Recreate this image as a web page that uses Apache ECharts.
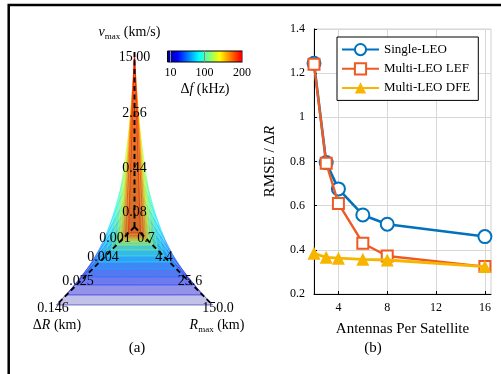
<!DOCTYPE html>
<html>
<head>
<meta charset="utf-8">
<script src="https://cdn.jsdelivr.net/npm/echarts@6/dist/echarts.min.js"></script>
<style>
  html, body { margin: 0; padding: 0; background: #fff; }
  #chart { width: 501px; height: 374px; }
</style>
</head>
<body>
<div id="chart"></div>
<script>
// ---- panel (a): contour levels, one triangle per delta-f ----
const dfLevels = [10, 25, 40, 55, 70, 85, 100, 115, 130, 145, 160, 175, 190, 200];
const dRVals   = [0.146, 0.0742, 0.0377, 0.022, 0.0128, 0.0080, 0.0053, 0.00353, 0.00252, 0.00206, 0.0018, 0.00157, 0.00137, 0.00112];
const rMaxVals = [150, 75.8, 38.5, 22.3, 12.9, 8.04, 5.35, 3.56, 2.53, 2.07, 1.8, 1.57, 1.37, 1.12];
const vMaxVals = [0.095, 0.129, 0.185, 0.292, 0.535, 0.98, 1.54, 3.83, 7.03, 9.51, 11.4, 12.9, 14.1, 15.0];

// axis ticks (log scale, centre = first tick)
const vTicks  = [0.0746, 0.437, 2.56, 15];
const vTickLabels = ['0.08', '0.44', '2.56', '15.00'];
const dRTicks = [0.000745, 0.0043, 0.025, 0.146];
const dRTickLabels = ['0.001', '0.004', '0.025', '0.146'];
const rTicks  = [0.745, 4.4, 25.6, 150];
const rTickLabels = ['0.7', '4.4', '25.6', '150.0'];

// colorbar
const cbRange = [2, 201];
const cbTicks = [10, 100, 200];

// ---- panel (b) ----
const antennas  = [2, 3, 4, 6, 8, 16];
const singleLEO = [1.245, 0.795, 0.676, 0.558, 0.516, 0.46];
const multiLEF  = [1.24, 0.792, 0.61, 0.43, 0.372, 0.324];
const multiDFE  = [0.384, 0.366, 0.362, 0.357, 0.354, 0.324];

const serif = 'Liberation Serif';

// geometry of the three spokes in the hidden plane (units = px)
const axes = [
  { key: 'v',  ticks: vTicks,  labels: vTickLabels,  dir: [0, 175],
    off: [[0, -15], [0, 0], [0, 3], [0, 5]] },
  { key: 'dR', ticks: dRTicks, labels: dRTickLabels, dir: [-78, -78],
    off: [[-19.5, 11], [-5.5, 4], [-4.5, 2], [-3.5, 3]] },
  { key: 'r',  ticks: rTicks,  labels: rTickLabels,  dir: [78, -78],
    off: [[11.5, 11], [3.5, 4], [3.5, 2], [5.5, 3]] }
];

function proj(ax, val) {
  const t = ax.ticks;
  const f = Math.log(val / t[0]) / Math.log(t[t.length - 1] / t[0]);
  return [ax.dir[0] * f, ax.dir[1] * f];
}

const jetStops = [
  [0, [0, 0, 128]], [0.139, [0, 0, 255]], [0.417, [0, 255, 255]],
  [0.694, [255, 255, 0]], [0.972, [255, 0, 0]], [1, [235, 0, 0]]
];
function jet(t) {
  t = Math.max(0, Math.min(1, t));
  for (let k = 1; k < jetStops.length; k++) {
    if (t <= jetStops[k][0]) {
      const a = jetStops[k - 1], b = jetStops[k];
      const u = (t - a[0]) / (b[0] - a[0]);
      return a[1].map((c, j) => Math.round(c + (b[1][j] - c) * u));
    }
  }
  return jetStops[jetStops.length - 1][1];
}
const rgba = (c, a) => 'rgba(' + c[0] + ',' + c[1] + ',' + c[2] + ',' + a + ')';

const tickItems = [];
axes.forEach((ax, ai) => ax.ticks.forEach((v, ti) => tickItems.push([ai, ti])));

const chart = echarts.init(document.getElementById('chart'));

const option = {
  animation: false,
  backgroundColor: '#fff',
  grid: [
    { left: 34.5, top: 27, width: 200, height: 300, show: false },
    { left: 167.5, top: 51, width: 75, height: 11, show: false },
    { left: 314, top: 29, width: 177, height: 265, show: true, borderColor: '#d0d0d0', borderWidth: 1 }
  ],
  xAxis: [
    { gridIndex: 0, type: 'value', min: -100, max: 100, show: false },
    { gridIndex: 1, type: 'value', min: cbRange[0], max: cbRange[1], z: 10,
      axisLine: { show: false },
      axisTick: { inside: true, length: 11, customValues: cbTicks, lineStyle: { color: '#888', width: 1 } },
      axisLabel: { customValues: cbTicks, margin: 5, fontFamily: serif, fontSize: 12, color: '#000' },
      splitLine: { show: false } },
    { gridIndex: 2, type: 'value', min: 2, max: 16.5,
      name: 'Antennas Per Satellite', nameLocation: 'middle', nameGap: 28,
      nameTextStyle: { fontFamily: serif, fontSize: 15, color: '#000' },
      axisLine: { lineStyle: { color: '#000', width: 1 } },
      axisTick: { customValues: [4, 8, 12, 16], inside: true, length: 3, lineStyle: { color: '#000' } },
      axisLabel: { customValues: [4, 8, 12, 16], margin: 8, fontFamily: serif, fontSize: 12, color: '#000' },
      splitLine: { show: true, lineStyle: { color: '#d8d8d8', width: 1 } } }
  ],
  yAxis: [
    { gridIndex: 0, type: 'value', min: -100, max: 200, show: false },
    { gridIndex: 1, type: 'value', min: 0, max: 1, show: false },
    { gridIndex: 2, type: 'value', min: 0.2, max: 1.4, interval: 0.2,
      name: 'RMSE / Δ{i|R}', nameLocation: 'middle', nameGap: 36,
      nameTextStyle: { fontFamily: serif, fontSize: 15, color: '#000',
        rich: { i: { fontFamily: serif, fontSize: 15, fontStyle: 'italic' } } },
      axisLine: { show: true, lineStyle: { color: '#000', width: 1 } },
      axisTick: { show: true, inside: true, length: 3, lineStyle: { color: '#000' } },
      axisLabel: { margin: 9, fontFamily: serif, fontSize: 12, color: '#000' },
      splitLine: { show: true, lineStyle: { color: '#d8d8d8', width: 1 } } }
  ],
  legend: {
    orient: 'vertical', left: 337, top: 37,
    itemWidth: 37, itemHeight: 14, itemGap: 6,
    padding: [6, 8, 6, 4],
    backgroundColor: '#fff', borderColor: '#000', borderWidth: 1, borderRadius: 0,
    textStyle: { fontFamily: serif, fontSize: 13, color: '#000' },
    data: ['Single-LEO', 'Multi-LEO LEF', 'Multi-LEO DFE']
  },
  graphic: [
    { type: 'rect', shape: { x: 8.7, y: 5, width: 600, height: 500 },
      style: { fill: 'none', stroke: '#000', lineWidth: 2.5 }, z: 100 },
    { type: 'text', x: 129.5, y: 32,
      style: { text: '{i|v}{s|max} (km/s)', fontFamily: serif, fontSize: 14, fill: '#000',
        align: 'center', verticalAlign: 'middle',
        rich: { i: { fontFamily: serif, fontSize: 14, fontStyle: 'italic' },
                s: { fontFamily: serif, fontSize: 9, verticalAlign: 'bottom', lineHeight: 18 } } } },
    { type: 'text', x: 205, y: 89,
      style: { text: 'Δ{i|f} (kHz)', fontFamily: serif, fontSize: 14, fill: '#000',
        align: 'center', verticalAlign: 'middle',
        rich: { i: { fontFamily: serif, fontSize: 14, fontStyle: 'italic' } } } },
    { type: 'text', x: 57, y: 325,
      style: { text: 'Δ{i|R} (km)', fontFamily: serif, fontSize: 14, fill: '#000',
        align: 'center', verticalAlign: 'middle',
        rich: { i: { fontFamily: serif, fontSize: 14, fontStyle: 'italic' } } } },
    { type: 'text', x: 217, y: 325,
      style: { text: '{i|R}{s|max} (km)', fontFamily: serif, fontSize: 14, fill: '#000',
        align: 'center', verticalAlign: 'middle',
        rich: { i: { fontFamily: serif, fontSize: 14, fontStyle: 'italic' },
                s: { fontFamily: serif, fontSize: 9, verticalAlign: 'bottom', lineHeight: 18 } } } },
    { type: 'text', x: 137, y: 348,
      style: { text: '(a)', fontFamily: serif, fontSize: 15, fill: '#000', align: 'center', verticalAlign: 'middle' } },
    { type: 'text', x: 373, y: 348,
      style: { text: '(b)', fontFamily: serif, fontSize: 15, fill: '#000', align: 'center', verticalAlign: 'middle' } }
  ],
  series: [
    // contour triangles
    {
      type: 'custom', xAxisIndex: 0, yAxisIndex: 0, z: 2, silent: true,
      data: dfLevels.map((d, i) => [d, dRVals[i], rMaxVals[i], vMaxVals[i]]),
      renderItem: function (params, api) {
        const pts = [
          proj(axes[1], api.value(1)),
          proj(axes[2], api.value(2)),
          proj(axes[0], api.value(3))
        ].map(p => api.coord(p));
        const c = jet((api.value(0) - cbRange[0]) / (cbRange[1] - cbRange[0]));
        return {
          type: 'polygon', shape: { points: pts },
          style: { fill: rgba(c, 0.24), stroke: rgba(c, 0.85), lineWidth: 0.6 }
        };
      }
    },
    // tick labels
    {
      type: 'custom', xAxisIndex: 0, yAxisIndex: 0, z: 3, silent: true,
      data: tickItems,
      renderItem: function (params, api) {
        const ax = axes[api.value(0)];
        const ti = api.value(1);
        const p = api.coord(proj(ax, ax.ticks[ti]));
        return {
          type: 'text', x: p[0] + ax.off[ti][0], y: p[1] + ax.off[ti][1],
          style: { text: ax.labels[ti], fontFamily: serif, fontSize: 14, fill: '#000',
            align: 'center', verticalAlign: 'middle' }
        };
      }
    },
    // dashed spokes
    {
      type: 'custom', xAxisIndex: 0, yAxisIndex: 0, z: 4, silent: true,
      data: [[0], [1], [2]],
      renderItem: function (params, api) {
        const ax = axes[api.value(0)];
        const a = api.coord([0, 0]);
        const b = api.coord(proj(ax, ax.ticks[ax.ticks.length - 1]));
        return {
          type: 'line', shape: { x1: a[0], y1: a[1], x2: b[0], y2: b[1] },
          style: { stroke: '#000', lineWidth: 1.9, lineDash: [5, 3.5] }
        };
      }
    },
    // colorbar
    {
      type: 'custom', xAxisIndex: 1, yAxisIndex: 1, z: 2, silent: true,
      data: [[cbRange[0], cbRange[1]]],
      renderItem: function (params, api) {
        const a = api.coord([api.value(0), 1]);
        const b = api.coord([api.value(1), 0]);
        return {
          type: 'rect', shape: { x: a[0], y: a[1], width: b[0] - a[0], height: b[1] - a[1] },
          style: {
            fill: new echarts.graphic.LinearGradient(0, 0, 1, 0,
              jetStops.map(s => ({ offset: s[0], color: rgba(s[1], 1) }))),
            stroke: '#000', lineWidth: 1
          }
        };
      }
    },
    {
      name: 'Single-LEO', type: 'line', xAxisIndex: 2, yAxisIndex: 2, z: 3,
      data: antennas.map((x, i) => [x, singleLEO[i]]),
      symbol: 'emptyCircle', symbolSize: 13,
      lineStyle: { color: '#0072BD', width: 2.6 },
      itemStyle: { color: '#0072BD', borderWidth: 2.8 }
    },
    {
      name: 'Multi-LEO LEF', type: 'line', xAxisIndex: 2, yAxisIndex: 2, z: 4,
      data: antennas.map((x, i) => [x, multiLEF[i]]),
      symbol: 'emptyRect', symbolSize: 11,
      lineStyle: { color: '#EE5A24', width: 2.4 },
      itemStyle: { color: '#EE5A24', borderWidth: 2.5 }
    },
    {
      name: 'Multi-LEO DFE', type: 'line', xAxisIndex: 2, yAxisIndex: 2, z: 5,
      data: antennas.map((x, i) => [x, multiDFE[i]]),
      symbol: 'triangle', symbolSize: 13,
      lineStyle: { color: '#F7B500', width: 2.8 },
      itemStyle: { color: '#F7B500' }
    }
  ]
};

chart.setOption(option);
</script>
</body>
</html>
